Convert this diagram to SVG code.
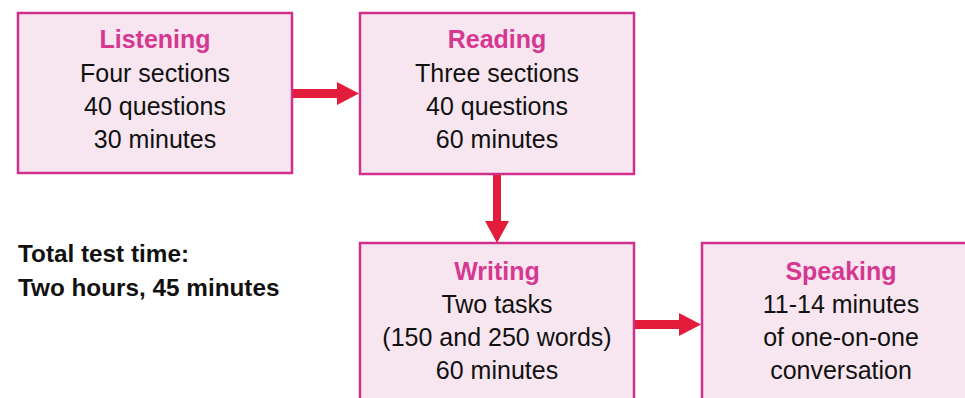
<svg xmlns="http://www.w3.org/2000/svg" width="965" height="398" viewBox="0 0 965 398">
<style>
.box{fill:#f7e6ef;stroke:#d0308c;stroke-width:2.5}
.t{font-family:"Liberation Sans",Arial,sans-serif;font-size:25px;text-anchor:middle;fill:#111}
.h{font-weight:bold;fill:#d63791}
.side{font-family:"Liberation Sans",Arial,sans-serif;font-size:24.3px;font-weight:bold;fill:#111}
.ar{fill:#e41c3c}
</style>
<rect width="965" height="398" fill="#ffffff"/>
<g id="listening">
<rect class="box" x="18" y="13" width="274" height="160"/>
<text class="t h" x="155" y="48">Listening</text>
<text class="t" x="155" y="82">Four sections</text>
<text class="t" x="155" y="115">40 questions</text>
<text class="t" x="155" y="148">30 minutes</text>
</g>
<g id="reading">
<rect class="box" x="360" y="13" width="274" height="161"/>
<text class="t h" x="497" y="48">Reading</text>
<text class="t" x="497" y="82">Three sections</text>
<text class="t" x="497" y="115">40 questions</text>
<text class="t" x="497" y="148">60 minutes</text>
</g>
<g id="writing">
<rect class="box" x="360" y="243" width="274" height="170"/>
<text class="t h" x="497" y="280">Writing</text>
<text class="t" x="497" y="313">Two tasks</text>
<text class="t" x="497" y="346">(150 and 250 words)</text>
<text class="t" x="497" y="379">60 minutes</text>
</g>
<g id="speaking">
<rect class="box" x="702" y="243" width="278" height="170"/>
<text class="t h" x="841" y="280">Speaking</text>
<text class="t" x="841" y="313">11-14 minutes</text>
<text class="t" x="841" y="346">of one-on-one</text>
<text class="t" x="841" y="379">conversation</text>
</g>
<g id="total">
<text class="side" x="18" y="262">Total test time:</text>
<text class="side" x="18" y="296">Two hours, 45 minutes</text>
</g>
<g id="connectors">
<path class="ar" d="M293 89 H337 V82 L359 93.5 L337 105 V98 H293 Z"/>
<path class="ar" d="M493 175 V221 H485 L497 243 L509 221 H501 V175 Z"/>
<path class="ar" d="M635 320 H679 V313 L701 324.5 L679 336 V329 H635 Z"/>
</g>
</svg>
